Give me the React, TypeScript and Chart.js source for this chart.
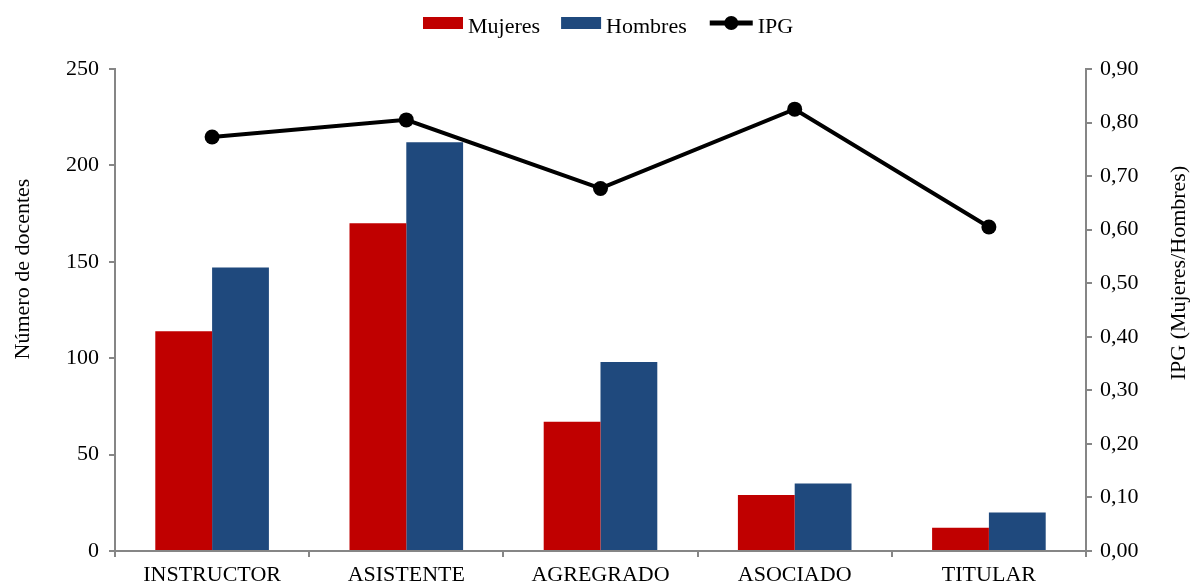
import React, { useEffect, useRef } from "react";
import { Chart, registerables } from "chart.js";

Chart.register(...registerables);

const categories = ["INSTRUCTOR", "ASISTENTE", "AGREGRADO", "ASOCIADO", "TITULAR"];
const mujeres = [114, 170, 67, 29, 12];
const hombres = [147, 212, 98, 35, 20];
const ipg = [0.773, 0.805, 0.677, 0.825, 0.605];
const seriesNames = ["Mujeres", "Hombres", "IPG"];
const leftTitle = "Número de docentes";
const rightTitle = "IPG (Mujeres/Hombres)";

const RED = "#C00000";
const BLUE = "#1F497D";
const AXIS = "#868686";
const FONT_FAMILY = '"Liberation Serif", "Times New Roman", serif';
const FONT_SIZE = 22;

const overlayPlugin = {
  id: "overlay",
  afterDraw(chart: any) {
    const ctx = chart.ctx as CanvasRenderingContext2D;
    ctx.save();
    ctx.font = `${FONT_SIZE}px ${FONT_FAMILY}`;
    ctx.fillStyle = "#000";
    ctx.textBaseline = "alphabetic";
    // legend
    let x = 423;
    const boxW = 40;
    const gap = 5;
    const itemGap = 21;
    const items = [
      { name: seriesNames[0], kind: "box", color: RED },
      { name: seriesNames[1], kind: "box", color: BLUE },
      { name: seriesNames[2], kind: "line", color: "#000" },
    ];
    for (const it of items) {
      if (it.kind === "box") {
        ctx.fillStyle = it.color;
        ctx.fillRect(x, 17, boxW, 12);
        x += boxW + gap;
      } else {
        const w = 43;
        x += 2;
        ctx.strokeStyle = it.color;
        ctx.lineWidth = 5;
        ctx.beginPath();
        ctx.moveTo(x, 23);
        ctx.lineTo(x + w, 23);
        ctx.stroke();
        ctx.fillStyle = it.color;
        ctx.beginPath();
        ctx.arc(x + w / 2, 23, 7, 0, Math.PI * 2);
        ctx.fill();
        x += w + 5;
      }
      ctx.fillStyle = "#000";
      ctx.textAlign = "left";
      ctx.fillText(it.name, x, 33);
      x += ctx.measureText(it.name).width + itemGap;
    }
    // axis titles
    ctx.textAlign = "center";
    ctx.textBaseline = "middle";
    ctx.save();
    ctx.translate(23, 269);
    ctx.rotate(-Math.PI / 2);
    ctx.fillText(leftTitle, 0, 0);
    ctx.restore();
    ctx.save();
    ctx.translate(1179, 273);
    ctx.rotate(-Math.PI / 2);
    ctx.fillText(rightTitle, 0, 0);
    ctx.restore();
    ctx.restore();
  },
};

export default function App() {
  const ref = useRef<HTMLCanvasElement | null>(null);
  useEffect(() => {
    if (!ref.current) return;
    const font = { family: FONT_FAMILY, size: FONT_SIZE };
    const chart = new Chart(ref.current, {
      type: "bar",
      data: {
        labels: categories,
        datasets: [
          {
            type: "line",
            label: seriesNames[2],
            data: ipg,
            yAxisID: "y1",
            borderColor: "#000",
            backgroundColor: "#000",
            borderWidth: 4,
            pointRadius: 7.5,
            pointBackgroundColor: "#000",
            pointBorderWidth: 0,
            tension: 0,
            order: 0,
          } as any,
          {
            type: "bar",
            label: seriesNames[0],
            data: mujeres,
            yAxisID: "y",
            backgroundColor: RED,
            borderWidth: 0,
            categoryPercentage: 0.585,
            barPercentage: 1,
            order: 1,
          },
          {
            type: "bar",
            label: seriesNames[1],
            data: hombres,
            yAxisID: "y",
            backgroundColor: BLUE,
            borderWidth: 0,
            categoryPercentage: 0.585,
            barPercentage: 1,
            order: 1,
          },
        ],
      },
      options: {
        responsive: true,
        maintainAspectRatio: false,
        animation: false,
        layout: { padding: { top: 69, left: 0, right: 0, bottom: 0 } },
        plugins: {
          legend: { display: false },
          tooltip: { enabled: false },
        },
        scales: {
          x: {
            offset: true,
            grid: {
              offset: true,
              drawOnChartArea: false,
              drawTicks: true,
              tickLength: 6,
              color: AXIS,
              lineWidth: 2,
            },
            border: { color: AXIS, width: 2 },
            ticks: { color: "#000", font, padding: 5, maxRotation: 0, autoSkip: false },
            afterFit: (s: any) => {
              s.height = 33;
            },
          },
          y: {
            position: "left",
            min: 0,
            max: 250,
            grid: {
              drawOnChartArea: false,
              drawTicks: true,
              tickLength: 6,
              color: AXIS,
              lineWidth: 2,
            },
            border: { color: AXIS, width: 2 },
            ticks: { stepSize: 50, color: "#000", font, padding: 10 },
            afterFit: (s: any) => {
              s.width = 115;
            },
          },
          y1: {
            position: "right",
            min: 0,
            max: 0.9,
            grid: {
              drawOnChartArea: false,
              drawTicks: true,
              tickLength: 6,
              color: AXIS,
              lineWidth: 2,
            },
            border: { color: AXIS, width: 2 },
            ticks: {
              stepSize: 0.1,
              color: "#000",
              font,
              padding: 8,
              callback: (v: any) => Number(v).toFixed(2).replace(".", ","),
            },
            afterFit: (s: any) => {
              s.width = 105;
            },
          },
        },
      },
      plugins: [overlayPlugin],
    });
    return () => chart.destroy();
  }, []);
  return (
    <div style={{ position: "absolute", left: 0, top: 0, width: 1191, height: 584, background: "#fff" }}>
      <canvas ref={ref} />
    </div>
  );
}
